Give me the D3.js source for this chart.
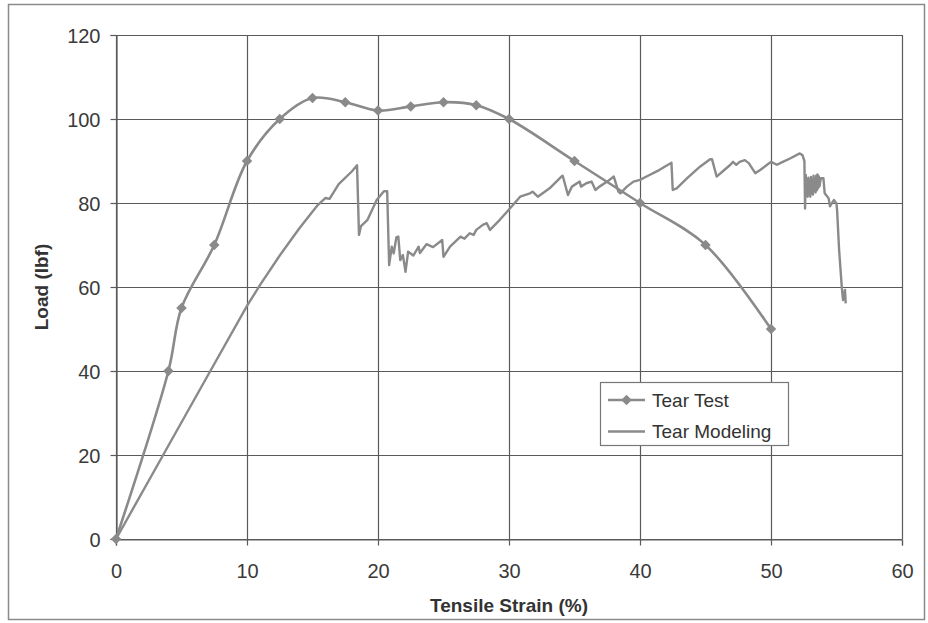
<!DOCTYPE html>
<html>
<head>
<meta charset="utf-8">
<script src="https://cdn.jsdelivr.net/npm/d3@7"></script>
<style>
  html, body { margin: 0; padding: 0; background: #fff; }
  svg { display: block; font-family: "Liberation Sans", Arial, sans-serif; }
</style>
</head>
<body>
<div id="chart"></div>
<script>
// tick values
const xTicks = [0, 10, 20, 30, 40, 50, 60];
const yTicks = [0, 20, 40, 60, 80, 100, 120];

// Tear Test (measured points with diamond markers)
const testStrain = [0, 4, 5, 7.5, 10, 12.5, 15, 17.5, 20, 22.5, 25, 27.5, 30, 35, 40, 45, 50];
const testLoad   = [0, 40, 55, 70, 90, 100, 105, 104, 102, 103, 104, 103.3, 100, 90, 80, 70, 50];

// Tear Modeling (simulated curve)
const modelStrain = [0, 3.6, 7.2, 10, 11, 12.5, 14, 15.4, 16, 16.3, 17, 18, 18.4, 18.55, 18.7, 19.2, 19.9,
  20.45, 20.7, 20.85, 21.05, 21.2, 21.4, 21.55, 21.7, 21.9, 22.1, 22.3, 22.7, 23.1, 23.2, 23.7, 24.2,
  24.9, 25.0, 25.5, 26.3, 26.6, 27.0, 27.3, 27.5, 28.0, 28.3, 28.55, 29.3, 30.1, 30.85, 31.6, 31.8,
  32.2, 33.1, 34.0, 34.1, 34.5, 34.8, 35.4, 35.5, 35.9, 36.3, 36.6, 36.9, 37.5, 38.0, 38.35, 38.5,
  39.0, 39.5, 40.0, 40.5, 41.5, 42.4, 42.5, 42.8, 43.6, 44.6, 45.35, 45.5, 45.85, 46.3, 46.9, 47.1,
  47.35, 47.6, 48.0, 48.3, 48.8, 49.2, 49.7, 50.0, 50.45, 50.9, 51.45, 52.2, 52.4, 52.55, 52.6, 52.65,
  52.7, 52.75, 52.8, 52.85, 52.9, 52.95, 53.0, 53.05, 53.1, 53.15, 53.2, 53.25, 53.3, 53.35, 53.4,
  53.45, 53.5, 53.55, 53.6, 53.65, 53.7, 53.8, 54.0, 54.1, 54.4, 54.5, 54.8,
  55.0, 55.05, 55.2, 55.4, 55.5, 55.65, 55.7];
const modelLoad = [0, 20, 40, 55.5, 60.5, 67.5, 74, 79.5, 81.2, 81, 84.5, 87.5, 89, 72.4, 74.5, 76, 80.7,
  82.8, 82.8, 65.2, 69.6, 68, 71.8, 72, 66.4, 67.6, 63.6, 68.4, 67.5, 69.6, 68.1, 70.2, 69.5,
  71.2, 67.2, 69.6, 72, 71.5, 72.8, 72.4, 73.6, 74.8, 75.2, 73.6, 76, 78.8, 81.5, 82.3, 82.7,
  81.5, 83.5, 86.3, 86.5, 81.9, 83.9, 85.1, 83.9, 84.7, 85.1, 83.1, 83.9, 85.1, 86.3, 82.7, 82.3,
  83.9, 85.1, 85.5, 86.3, 87.9, 89.6, 83.1, 83.5, 85.9, 88.7, 90.4, 90.4, 86.3, 87.5, 89.1, 89.8,
  89.1, 89.8, 90.2, 89.5, 87.1, 87.9, 89.1, 89.8, 89.1, 89.8, 90.6, 91.8, 91.4, 90, 78.7, 86.7,
  82, 85.5, 81.5, 86, 82.5, 84.5, 81.5, 86.2, 82.5, 85.5, 82, 86.5, 83, 85.8, 82.5,
  86.5, 83, 86.8, 83.5, 86.3, 84, 85.9, 85.9, 82.3, 81.1, 79.2, 80.7,
  79.9, 78, 68.8, 60.1, 56.9, 59.3, 56.1];

const seriesNames = ["Tear Test", "Tear Modeling"];

const W = 928, H = 623;
const margin = { left: 116, right: 26, top: 35, bottom: 84 };

const svg = d3.select("#chart").append("svg")
  .attr("width", W).attr("height", H);

// outer frame
svg.append("rect")
  .attr("x", 8.5).attr("y", 4.5).attr("width", 916).attr("height", 615)
  .attr("fill", "none").attr("stroke", "#8a8a8a").attr("stroke-width", 1.5);

const x = d3.scaleLinear().domain([0, 60]).range([margin.left, W - margin.right]);
const y = d3.scaleLinear().domain([0, 120]).range([H - margin.bottom, margin.top]);

const gridColor = "#5a5a5a";

// grid
svg.append("g").selectAll("line").data(yTicks).join("line")
  .attr("x1", x(0)).attr("x2", x(60))
  .attr("y1", d => Math.round(y(d)) + 0.5).attr("y2", d => Math.round(y(d)) + 0.5)
  .attr("stroke", gridColor).attr("stroke-width", 1.2);
svg.append("g").selectAll("line").data(xTicks).join("line")
  .attr("y1", y(0)).attr("y2", y(120))
  .attr("x1", d => Math.round(x(d)) + 0.5).attr("x2", d => Math.round(x(d)) + 0.5)
  .attr("stroke", gridColor).attr("stroke-width", 1.2);

// axes
const xAxis = svg.append("g")
  .attr("transform", `translate(0,${Math.round(y(0)) + 0.5})`)
  .call(d3.axisBottom(x).tickValues(xTicks).tickSize(6).tickPadding(18).tickFormat(d3.format("d")));
const yAxis = svg.append("g")
  .attr("transform", `translate(${Math.round(x(0)) + 0.5},0)`)
  .call(d3.axisLeft(y).tickValues(yTicks).tickSize(6).tickPadding(10).tickFormat(d3.format("d")));
[xAxis, yAxis].forEach(g => {
  g.select(".domain").attr("stroke", gridColor).attr("stroke-width", 1.2);
  g.selectAll(".tick line").attr("stroke", gridColor).attr("stroke-width", 1.2);
  g.selectAll(".tick text").attr("fill", "#3a3a3a").attr("font-size", 20)
    .attr("font-family", "'Liberation Sans', Arial, sans-serif");
});
yAxis.selectAll(".tick text").attr("dy", "0.35em");

// axis titles
svg.append("text")
  .attr("x", x(30)).attr("y", 612)
  .attr("text-anchor", "middle")
  .attr("font-size", 19).attr("font-weight", "bold").attr("fill", "#333")
  .text("Tensile Strain (%)");
svg.append("text")
  .attr("transform", `translate(48,${y(60)}) rotate(-90)`)
  .attr("text-anchor", "middle")
  .attr("font-size", 19).attr("font-weight", "bold").attr("fill", "#333")
  .text("Load (lbf)");

const lineColor = "#8a8a8a";

// Tear Modeling
const modelData = modelStrain.map((s, i) => [s, modelLoad[i]]);
svg.append("path")
  .datum(modelData)
  .attr("fill", "none").attr("stroke", lineColor).attr("stroke-width", 2.4)
  .attr("stroke-linejoin", "round")
  .attr("d", d3.line().x(d => x(d[0])).y(d => y(d[1])));

// Tear Test
const testData = testStrain.map((s, i) => [s, testLoad[i]]);
svg.append("path")
  .datum(testData)
  .attr("fill", "none").attr("stroke", lineColor).attr("stroke-width", 2.6)
  .attr("d", d3.line().curve(d3.curveCatmullRom.alpha(0.5)).x(d => x(d[0])).y(d => y(d[1])));

const diamond = d3.symbol().type(d3.symbolDiamond2).size(70);
svg.append("g").selectAll("path").data(testData).join("path")
  .attr("transform", d => `translate(${x(d[0])},${y(d[1])})`)
  .attr("d", diamond)
  .attr("fill", lineColor);

// legend
const lg = svg.append("g").attr("transform", "translate(600,382)");
lg.append("rect")
  .attr("x", 0.5).attr("y", 0.5).attr("width", 188).attr("height", 63)
  .attr("fill", "#fff").attr("stroke", "#777").attr("stroke-width", 1.2);
seriesNames.forEach((name, i) => {
  const yy = 18 + i * 31.5;
  lg.append("line")
    .attr("x1", 8).attr("x2", 45).attr("y1", yy).attr("y2", yy)
    .attr("stroke", lineColor).attr("stroke-width", i === 0 ? 2.6 : 2.4);
  if (i === 0) {
    lg.append("path").attr("transform", `translate(26.5,${yy})`).attr("d", diamond).attr("fill", lineColor);
  }
  lg.append("text")
    .attr("x", 52).attr("y", yy).attr("dy", "0.35em")
    .attr("font-size", 19).attr("fill", "#333")
    .text(name);
});
</script>
</body>
</html>
